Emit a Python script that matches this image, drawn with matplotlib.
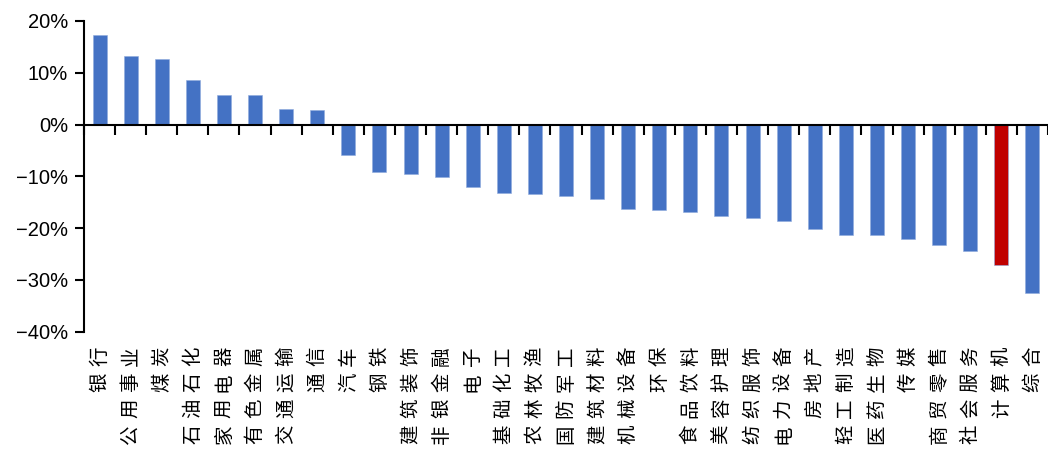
import numpy as np
import matplotlib
matplotlib.use("Agg")
import matplotlib.pyplot as plt
from matplotlib.ticker import FuncFormatter

# ---------------------------------------------------------------------------
# Data
# ---------------------------------------------------------------------------
sectors = [
    "银行", "公用事业", "煤炭", "石油石化", "家用电器", "有色金属", "交通运输", "通信",
    "汽车", "钢铁", "建筑装饰", "非银金融", "电子", "基础化工", "农林牧渔", "国防军工",
    "建筑材料", "机械设备", "环保", "食品饮料", "美容护理", "纺织服饰", "电力设备",
    "房地产", "轻工制造", "医药生物", "传媒", "商贸零售", "社会服务", "计算机", "综合",
]
returns_pct = [
    17.2, 13.2, 12.7, 8.7, 5.8, 5.8, 3.1, 2.9,
    -5.9, -9.2, -9.6, -10.2, -12.1, -13.3, -13.5, -13.8,
    -14.3, -16.4, -16.5, -16.9, -17.6, -18.1, -18.6,
    -20.1, -21.3, -21.4, -22.1, -23.2, -24.5, -27.2, -32.5,
]
highlight = "计算机"
y_ticks = [20, 10, 0, -10, -20, -30, -40]

BLUE = "#4472C4"
RED = "#C00000"

plt.rcParams["font.family"] = ["Liberation Sans", "DejaVu Sans"]

fig = plt.figure(figsize=(10.48, 4.54), dpi=100)
ax = fig.add_axes([84 / 1048, 1 - 331.7 / 454, 964 / 1048, (331.7 - 21) / 454])

x = np.arange(len(sectors))
colors = [RED if s == highlight else BLUE for s in sectors]
ax.bar(x, returns_pct, width=0.45, color=colors, edgecolor="#8FAADC",
       linewidth=0.4, zorder=2)

ax.set_xlim(-0.5, -0.5 + 964 / 31.2)
ax.set_ylim(-40, 20)
ax.set_yticks(y_ticks)
ax.yaxis.set_major_formatter(FuncFormatter(lambda v, _: f"{v:.0f}%".replace("-", "\u2212")))

# spines: left axis + zero line carrying the boundary ticks
for side in ["top", "right"]:
    ax.spines[side].set_visible(False)
ax.spines["bottom"].set_position(("data", 0))
ax.spines["left"].set_linewidth(1.5)
ax.spines["bottom"].set_linewidth(1.5)
ax.spines["bottom"].set_zorder(3)

ax.set_xticks(np.arange(-0.5, len(sectors), 1.0))
ax.set_xticklabels([])
ax.tick_params(axis="x", direction="out", length=7, width=1.5)
ax.tick_params(axis="y", direction="out", length=6.5, width=1.5, labelsize=14.5, pad=5)

# category names under the plot area, rotated 90 deg, read bottom-to-top.
# Characters are placed one by one so the loose letter spacing can be matched.
char_pitch = 18.7  # points
for i, name in enumerate(sectors):
    for k, ch in enumerate(reversed(name)):
        ax.annotate(ch, xy=(i, 0), xycoords=ax.get_xaxis_transform(),
                    xytext=(0, -10.5 - k * char_pitch), textcoords="offset points",
                    rotation=90, ha="center", va="top", fontsize=14,
                    family=["Noto Sans CJK SC", "DejaVu Sans"])

fig.savefig("out.png", dpi=100)
